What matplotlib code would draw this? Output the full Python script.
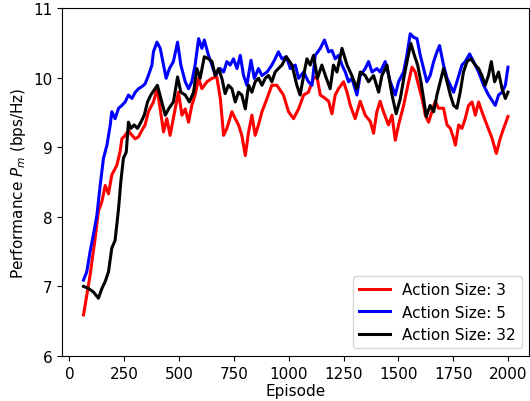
import numpy as np
import matplotlib.pyplot as plt

plt.rcParams['font.family'] = 'DejaVu Sans'

# ==================== 数据 ====================
ep_3 = [64, 94, 117, 132, 148, 163, 178, 193, 216, 231, 239, 254, 269, 285, 300, 315,
        330, 345, 360, 383, 400, 429, 444, 459, 482, 497, 513, 528, 543, 558, 573, 589,
        604, 627, 650, 672, 688, 703, 718, 741, 756, 771, 786, 802, 817, 832, 847, 862,
        878, 901, 923, 946, 976, 999, 1022, 1045, 1068, 1090, 1113, 1129, 1144, 1167,
        1182, 1197, 1212, 1227, 1250, 1266, 1281, 1303, 1326, 1349, 1372, 1387, 1402,
        1417, 1432, 1455, 1471, 1486, 1501, 1524, 1547, 1562, 1577, 1592, 1608, 1623,
        1638, 1653, 1668, 1683, 1706, 1722, 1737, 1752, 1760, 1775, 1790, 1805, 1820,
        1836, 1851, 1866, 1881, 1904, 1927, 1947, 1965, 1980, 2000]
perf_3 = [6.59, 7.16, 7.69, 8.08, 8.22, 8.45, 8.33, 8.60, 8.74, 8.94, 9.12, 9.17, 9.24,
          9.17, 9.12, 9.15, 9.24, 9.32, 9.51, 9.65, 9.84, 9.22, 9.41, 9.17, 9.55, 9.79,
          9.46, 9.55, 9.36, 9.60, 9.75, 9.99, 9.84, 9.94, 9.99, 10.01, 9.70, 9.17, 9.27,
          9.51, 9.41, 9.32, 9.17, 8.88, 9.22, 9.46, 9.17, 9.32, 9.51, 9.70, 9.89, 9.89,
          9.75, 9.51, 9.41, 9.55, 9.75, 9.79, 9.99, 10.01, 9.75, 9.70, 9.66, 9.48, 9.75,
          9.84, 9.94, 9.79, 9.60, 9.41, 9.66, 9.46, 9.37, 9.20, 9.51, 9.66, 9.51, 9.32,
          9.46, 9.10, 9.32, 9.60, 9.94, 10.15, 10.08, 9.89, 9.70, 9.46, 9.36, 9.51, 9.66,
          9.56, 9.56, 9.32, 9.27, 9.13, 9.03, 9.32, 9.27, 9.41, 9.60, 9.65, 9.46, 9.65,
          9.51, 9.32, 9.13, 8.91, 9.13, 9.27, 9.44]

ep_5 = [64, 79, 94, 109, 125, 140, 155, 171, 186, 193, 208, 224, 239, 254, 269, 285,
        300, 315, 330, 345, 360, 376, 383, 399, 414, 429, 441, 456, 474, 493, 508, 528,
        543, 558, 573, 589, 604, 615, 634, 650, 665, 688, 703, 718, 733, 748, 764, 779,
        794, 809, 828, 843, 862, 878, 901, 923, 938, 953, 969, 989, 1007, 1030, 1045,
        1068, 1090, 1106, 1121, 1144, 1163, 1182, 1197, 1212, 1227, 1243, 1258, 1273,
        1288, 1311, 1326, 1349, 1364, 1380, 1402, 1417, 1440, 1463, 1486, 1501, 1524,
        1539, 1554, 1569, 1585, 1600, 1615, 1630, 1645, 1661, 1676, 1688, 1706, 1722,
        1737, 1752, 1767, 1790, 1805, 1825, 1843, 1866, 1889, 1911, 1942, 1957, 1973,
        1988, 2000]
perf_5 = [7.09, 7.21, 7.50, 7.74, 8.02, 8.45, 8.84, 9.03, 9.32, 9.51, 9.41, 9.56, 9.60,
          9.65, 9.75, 9.70, 9.79, 9.84, 9.87, 9.91, 10.03, 10.18, 10.37, 10.51, 10.42,
          10.18, 9.99, 10.13, 10.23, 10.51, 10.18, 9.94, 9.84, 9.94, 10.18, 10.56, 10.42,
          10.54, 10.32, 10.18, 10.03, 10.13, 10.08, 10.23, 10.18, 10.27, 10.13, 10.32,
          10.03, 9.89, 10.25, 9.99, 10.13, 10.03, 10.08, 10.18, 10.27, 10.37, 10.27,
          10.30, 10.13, 10.18, 9.99, 10.08, 9.94, 9.89, 10.32, 10.42, 10.54, 10.37, 10.39,
          10.27, 10.32, 10.18, 10.08, 9.94, 9.99, 9.75, 10.03, 10.13, 10.23, 10.08, 10.13,
          10.08, 10.23, 9.94, 9.75, 9.94, 10.08, 10.32, 10.63, 10.58, 10.56, 10.32, 10.13,
          9.94, 10.03, 10.23, 10.37, 10.46, 10.18, 9.99, 9.89, 9.79, 9.94, 10.18, 10.23,
          10.34, 10.23, 10.08, 9.89, 9.75, 9.60, 9.75, 9.79, 9.89, 10.15]

ep_32 = [64, 87, 109, 132, 148, 163, 178, 193, 208, 224, 234, 246, 259, 269, 280, 295,
         310, 326, 341, 356, 371, 386, 401, 421, 437, 452, 474, 493, 508, 528, 547, 566,
         581, 596, 615, 634, 650, 665, 680, 695, 710, 725, 741, 756, 771, 786, 802, 817,
         832, 847, 862, 878, 893, 908, 923, 938, 953, 969, 989, 1015, 1037, 1052, 1071,
         1083, 1098, 1113, 1131, 1151, 1167, 1189, 1204, 1220, 1243, 1266, 1288, 1311,
         1326, 1349, 1364, 1387, 1410, 1425, 1448, 1471, 1490, 1509, 1527, 1542, 1557,
         1573, 1588, 1603, 1615, 1627, 1645, 1661, 1676, 1691, 1706, 1722, 1737, 1752,
         1767, 1782, 1797, 1813, 1831, 1851, 1866, 1881, 1896, 1911, 1924, 1939, 1957,
         1973, 1988, 2000]
perf_32 = [7.00, 6.97, 6.92, 6.83, 6.97, 7.07, 7.21, 7.55, 7.66, 8.12, 8.50, 8.84, 8.93,
           9.36, 9.27, 9.32, 9.27, 9.36, 9.46, 9.65, 9.75, 9.82, 9.89, 9.65, 9.46, 9.55,
           9.65, 10.01, 9.79, 9.75, 9.65, 9.79, 10.13, 9.99, 10.30, 10.27, 10.23, 10.03,
           10.13, 9.99, 9.77, 9.89, 9.84, 9.65, 9.79, 9.75, 9.55, 9.89, 9.79, 9.94, 9.99,
           9.89, 9.99, 10.03, 9.94, 10.08, 10.13, 10.18, 10.30, 10.18, 9.89, 9.75, 10.08,
           10.27, 10.18, 10.32, 9.99, 10.18, 10.03, 9.84, 10.18, 10.08, 10.42, 10.18,
           10.03, 9.84, 10.08, 10.03, 9.94, 10.03, 9.79, 10.03, 10.18, 9.75, 9.48, 9.70,
           10.03, 10.27, 10.49, 10.32, 10.18, 9.94, 9.70, 9.44, 9.60, 9.51, 9.75, 9.94,
           10.13, 9.94, 9.75, 9.60, 9.56, 9.79, 10.08, 10.23, 10.27, 10.18, 10.13, 10.03,
           9.89, 10.03, 10.23, 9.94, 10.08, 9.84, 9.70, 9.79]

labels = ['Action Size: 3', 'Action Size: 5', 'Action Size: 32']
colors = ['red', 'blue', 'black']

# ==================== 绘图 ====================
fig = plt.figure(figsize=(5.3, 4.02), dpi=100)
ax = fig.add_axes([0.1175, 0.112, 0.881, 0.8656])

for x, y, lab, c in zip([ep_3, ep_5, ep_32], [perf_3, perf_5, perf_32], labels, colors):
    ax.plot(x, y, color=c, linewidth=2.2, label=lab)

ax.set_ylim(6, 11)
ax.set_xticks(np.arange(0, 2001, 250))
ax.tick_params(labelsize=11)
ax.set_xlabel('Episode', fontsize=11, labelpad=1.5)
ax.set_ylabel('Performance $P_m$ (bps/Hz)', fontsize=11)
ax.legend(loc='lower right', fontsize=11)

plt.savefig('out.png', dpi=100)
